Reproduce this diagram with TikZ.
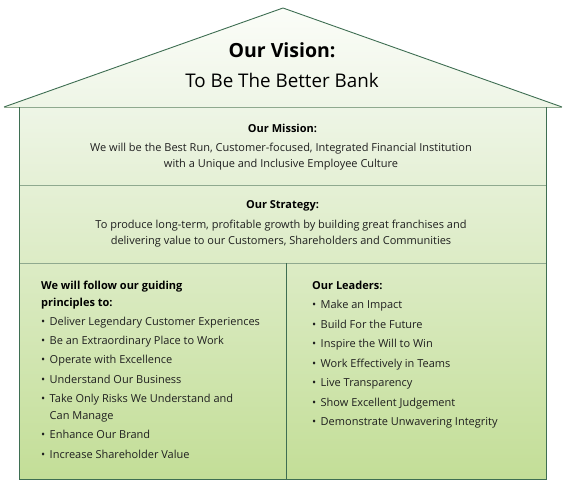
\documentclass[tikz,border=0pt]{standalone}
\usepackage{fontspec}
\setmainfont{Open Sans}
\definecolor{edge}{HTML}{3E6E52}
\definecolor{divline}{HTML}{8FA98F}
\definecolor{rooftop}{HTML}{FBFDF8}
\definecolor{roofbot}{HTML}{EEF5E6}
\definecolor{bodytop}{HTML}{EEF5E6}
\definecolor{bodybot}{HTML}{C3DE97}
\newcommand\bul{\makebox[8.5pt][l]{•}}
\begin{document}
\begin{tikzpicture}[x=1pt,y=-1pt,
  txt/.style={inner sep=0pt,font=\fontsize{11}{13}\selectfont,text=black!88},
  hdr/.style={txt,font=\fontsize{11}{13}\selectfont\bfseries,text=black},
  ctr/.style={anchor=base},
  lft/.style={anchor=base west}]
\useasboundingbox (0,0) rectangle (567,487);
% coordinates
\coordinate (rl) at (4,107);
\coordinate (apex) at (283,8);
\coordinate (rr) at (562,107);
\coordinate (btl) at (19,107);
\coordinate (btr) at (546,107);
\coordinate (bbl) at (19,479);
\coordinate (bbr) at (546,479);
\coordinate (d1l) at (19,185);
\coordinate (d1r) at (546,185);
\coordinate (d2l) at (19,263);
\coordinate (d2r) at (546,263);
\coordinate (vt) at (286,263);
\coordinate (vb) at (286,479);
% body
\shade[top color=bodytop,bottom color=bodybot] (btl) rectangle (bbr);
% roof
\shade[top color=rooftop,bottom color=roofbot] (rl) -- (apex) -- (rr) -- cycle;
\draw[edge,line width=0.9pt,line join=miter] (rl) -- (apex) -- (rr);
\draw[divline,line width=0.9pt] (rl) -- (rr);
% dividers
\draw[divline,line width=0.9pt] (d1l) -- (d1r);
\draw[divline,line width=1pt] (d2l) -- (d2r);
\draw[edge,line width=1pt] (vt) -- (vb);
% body outline
\draw[edge,line width=1pt] (btl) -- (bbl) -- (bbr) -- (btr);
% vision
\node[ctr,inner sep=0pt,font=\fontsize{19.5}{24}\selectfont\bfseries] (v1) at (282,58) {Our Vision:};
\node[ctr,inner sep=0pt,font=\fontsize{18.8}{24}\selectfont] (v2) at (282,87) {To Be The Better Bank};
% mission
\node[hdr,ctr] (m0) at (282.5,132) {Our Mission:};
\node[txt,ctr] (m1) at (281,151) {We will be the Best Run, Customer-focused, Integrated Financial Institution};
\node[txt,ctr] (m2) at (281,167) {with a Unique and Inclusive Employee Culture};
% strategy
\node[hdr,ctr] (s0) at (282.5,208) {Our Strategy:};
\node[txt,ctr] (s1) at (281,228) {To produce long-term, profitable growth by building great franchises and};
\node[txt,ctr] (s2) at (281,244) {delivering value to our Customers, Shareholders and Communities};
% principles
\node[hdr,lft] (p0) at (41,289) {We will follow our guiding};
\node[hdr,lft] (p00) at (41,306) {principles to:};
\node[txt,lft] (p1) at (41,325) {\bul Deliver Legendary Customer Experiences};
\node[txt,lft] (p2) at (41,344) {\bul Be an Extraordinary Place to Work};
\node[txt,lft] (p3) at (41,363.5) {\bul Operate with Excellence};
\node[txt,lft] (p4) at (41,383) {\bul Understand Our Business};
\node[txt,lft] (p5) at (41,402) {\bul Take Only Risks We Understand and};
\node[txt,lft] (p5b) at (41,419) {\hspace*{8.5pt}Can Manage};
\node[txt,lft] (p6) at (41,438.5) {\bul Enhance Our Brand};
\node[txt,lft] (p7) at (41,458) {\bul Increase Shareholder Value};
% leaders
\node[hdr,lft] (q0) at (312,289) {Our Leaders:};
\node[txt,lft] (q1) at (312,308.5) {\bul Make an Impact};
\node[txt,lft] (q2) at (312,328) {\bul Build For the Future};
\node[txt,lft] (q3) at (312,347.5) {\bul Inspire the Will to Win};
\node[txt,lft] (q4) at (312,367) {\bul Work Effectively in Teams};
\node[txt,lft] (q5) at (312,386.5) {\bul Live Transparency};
\node[txt,lft] (q6) at (312,406) {\bul Show Excellent Judgement};
\node[txt,lft] (q7) at (312,425.5) {\bul Demonstrate Unwavering Integrity};
\end{tikzpicture}
\end{document}
